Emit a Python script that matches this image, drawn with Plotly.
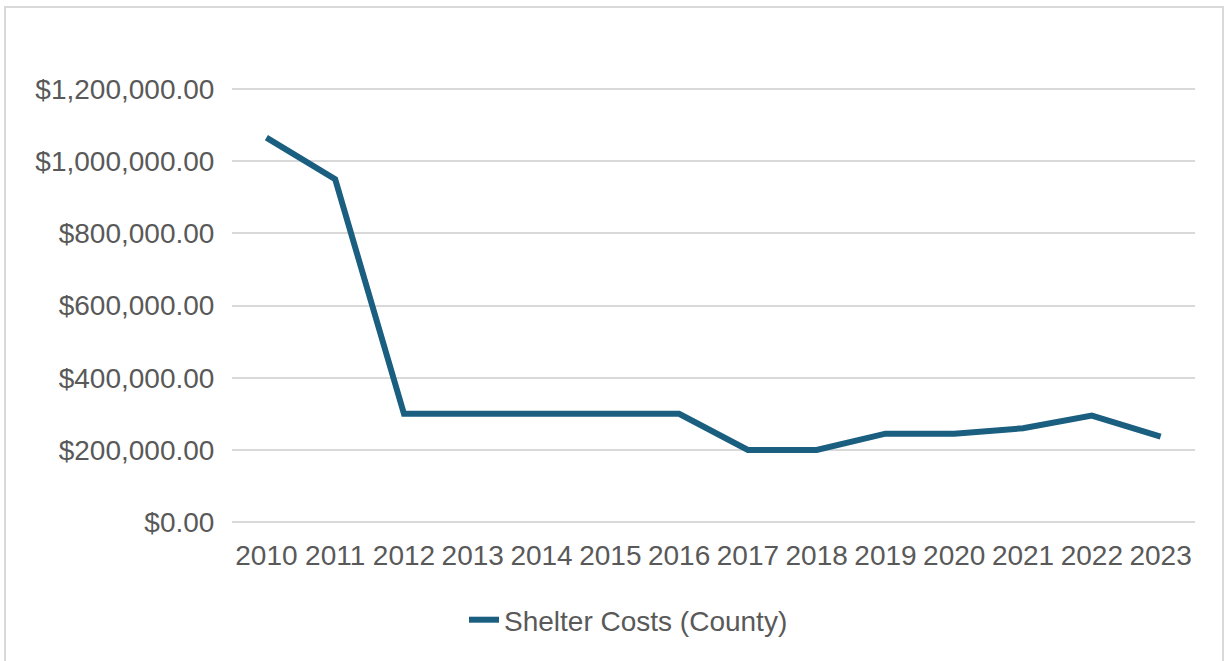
import plotly.graph_objects as go

years = ["2010", "2011", "2012", "2013", "2014", "2015", "2016",
         "2017", "2018", "2019", "2020", "2021", "2022", "2023"]
shelter_costs = [1065000, 950000, 300000, 300000, 300000, 300000, 300000,
                 200000, 200000, 245000, 245000, 260000, 295000, 237000]
y_ticks = [0, 200000, 400000, 600000, 800000, 1000000, 1200000]
y_tick_labels = ["$" + f"{v:,.2f}" for v in y_ticks]

W, H = 1225, 661
L, R, T, B = 232, 30, 86, 136
pw, ph = W - L - R, H - T - B

fig = go.Figure()
fig.add_trace(go.Scatter(
    x=years, y=shelter_costs, mode="lines", name="Shelter Costs (County)",
    line=dict(color="#1a5e80", width=6),
))

font = dict(family="Liberation Sans, Arial, sans-serif", size=28, color="#595959")

fig.update_layout(
    width=W, height=H,
    margin=dict(l=L, r=R, t=T, b=B),
    paper_bgcolor="white", plot_bgcolor="white",
    font=font,
    showlegend=True,
    legend=dict(orientation="h", x=0.5 + 16 / W, xref="container", xanchor="center",
                y=(H - 620) / H, yref="container", yanchor="middle",
                font=font),
    xaxis=dict(type="category", tickmode="array", tickvals=years, ticktext=years,
               range=[-0.5, 13.5], showgrid=False, zeroline=False, showline=False,
               ticks="outside", ticklen=5, tickcolor="rgba(0,0,0,0)", tickangle=0,
               tickfont=font),
    yaxis=dict(range=[-8000, 1208000], tickmode="array", tickvals=y_ticks,
               ticktext=y_tick_labels, showgrid=True, gridcolor="#d9d9d9", gridwidth=2,
               zeroline=True, zerolinecolor="#d9d9d9", zerolinewidth=2,
               showline=False, ticks="outside", ticklen=11,
               tickcolor="rgba(0,0,0,0)", tickfont=font),
)

# light frame around the whole chart
fig.add_shape(type="rect", xref="paper", yref="paper",
              x0=(5 - L) / pw, x1=(1223 - L) / pw,
              y0=(T + ph - 700) / ph, y1=(T + ph - 7) / ph,
              line=dict(color="#d9d9d9", width=2), fillcolor="rgba(0,0,0,0)", layer="below")

fig.write_html("out.html", config={"displayModeBar": False},
               post_script="document.body.style.margin='0';document.body.style.overflow='hidden';")
